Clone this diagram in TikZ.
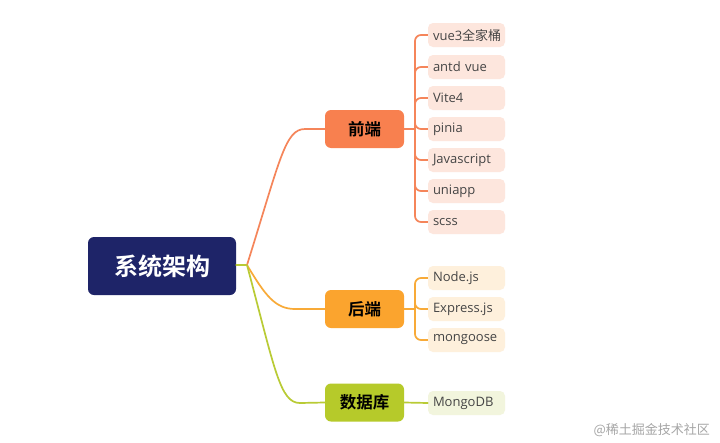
\documentclass[tikz,border=0pt]{standalone}
\usepackage{fontspec}
\setmainfont{Open Sans}
\newfontfamily\cjk{Noto Sans CJK SC}
\newfontfamily\cjkb{Noto Sans CJK SC Bold}
\definecolor{rootc}{HTML}{1E2468}
\definecolor{fec}{HTML}{F8804F}
\definecolor{bec}{HTML}{FBA42E}
\definecolor{dbc}{HTML}{B6CA2A}
\definecolor{fel}{HTML}{F5855A}
\definecolor{bel}{HTML}{F8AA38}
\definecolor{dbl}{HTML}{B9CB35}
\definecolor{fef}{HTML}{FDE6DD}
\definecolor{bef}{HTML}{FEF0DC}
\definecolor{dbf}{HTML}{F2F5DD}
\definecolor{leaftxt}{HTML}{454545}
\tikzset{
  rootbox/.style={draw=none, fill=rootc, rounded corners=6pt, minimum width=148pt, minimum height=58pt, text=white, font=\cjkb\fontsize{24}{26}\selectfont, inner sep=0pt},
  catbox/.style={draw=none, rounded corners=6pt, minimum width=79pt, minimum height=38pt, text=black, font=\cjkb\fontsize{16.5}{18}\selectfont, inner sep=0pt},
  leafbox/.style={draw=none, rounded corners=5pt, minimum width=77pt, minimum height=24pt, text width=67pt, align=left, text=leaftxt, font=\fontsize{13}{15}\selectfont, inner sep=0pt, inner xsep=5pt},
  conn/.style={line width=1.7pt, line cap=round},
  spine/.style={line width=1.7pt, rounded corners=6pt}
}
\begin{document}
\begin{tikzpicture}[x=1pt,y=-1pt]
\useasboundingbox (0,0) rectangle (720,442);
\fill[white] (0,0) rectangle (720,442);
% nodes
\node[rootbox] (root) at (162,266) {系统架构};
\coordinate (j) at (247,265);
\node[catbox, fill=fec] (fe) at (364.5,129) {前端};
\node[catbox, fill=bec] (be) at (364.5,309) {后端};
\node[catbox, fill=dbc] (db) at (364.5,402.5) {数据库};
% leaves frontend
\foreach \n/\y/\t in {f1/35/{vue3{\cjk 全家桶}}, f2/67/{antd vue}, f3/98/{Vite4}, f4/129/{pinia}, f5/160/{Javascript}, f6/191/{uniapp}, f7/222/{scss}}{
  \node[leafbox, fill=fef] (\n) at (466.5,\y) {\t};
}
\foreach \n/\y/\t in {b1/278/{Node.js}, b2/309/{Express.js}, b3/340/{mongoose}}{
  \node[leafbox, fill=bef] (\n) at (466.5,\y) {\t};
}
\node[leafbox, fill=dbf] (d1) at (466.5,403) {MongoDB};
% main connectors
\draw[conn, dbl] (root.east |- j) -- (j);
\draw[conn, fel] (j) .. controls (280,160) and (285,129) .. (305,129) -- (fe.west);
\draw[conn, bel] (j) .. controls (265,295) and (275,309) .. (295,309) -- (be.west);
\draw[conn, dbl] (j) .. controls (275,370) and (280,403) .. (300,403) -- (db.west);
% branch connectors
\coordinate (fs) at (415,129);
\draw[conn, fel] (fe.east) -- (fs);
\foreach \n in {f1,f2,f3,f4,f5,f6,f7}{
  \draw[spine, fel] (fs) -- (fs |- \n.west) -- (\n.west);
}
\coordinate (bs) at (415,309);
\draw[conn, bel] (be.east) -- (bs);
\foreach \n in {b1,b2,b3}{
  \draw[spine, bel] (bs) -- (bs |- \n.west) -- (\n.west);
}
\draw[conn, dbl] (db.east) -- (d1.west);
% watermark
\node[anchor=east, text=gray!70, font=\cjk\fontsize{13}{15}\selectfont, inner sep=0pt] (wm) at (710,430) {@稀土掘金技术社区};
\end{tikzpicture}
\end{document}
